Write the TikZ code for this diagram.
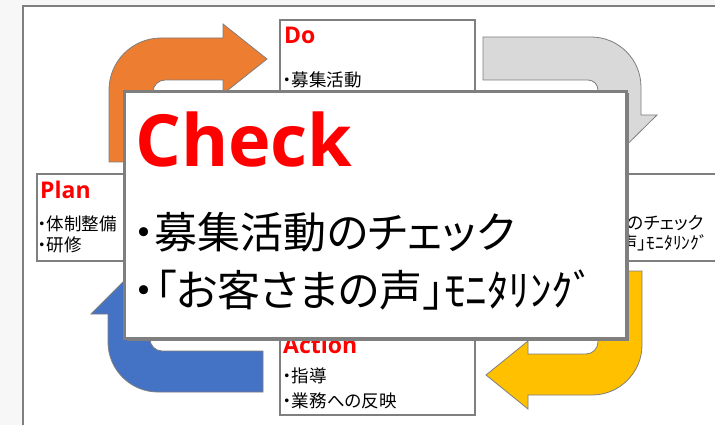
\documentclass[tikz,border=0pt]{standalone}
\usepackage{fontspec}
\usepackage{tikz}
\usetikzlibrary{shadows}
\newfontfamily\jpfont[RawFeature=+palt]{Noto Sans CJK JP}
\newfontfamily\headfont{Open Sans}
\definecolor{frameGray}{HTML}{7F7F7F}
\definecolor{pdOrange}{HTML}{ED7D31}
\definecolor{dcGray}{HTML}{D9D9D9}
\definecolor{caYellow}{HTML}{FFC000}
\definecolor{apBlue}{HTML}{4472C4}
\tikzset{
BOX/.style ={draw=frameGray,line width=1.6pt,fill=white,inner sep=0,anchor=north west},
BIGBOX/.style ={draw=frameGray,line width=3pt,fill=white,inner sep=0,anchor=north west,
	drop shadow={shadow xshift=2.5pt,shadow yshift=-2pt,fill=frameGray,opacity=1}},
TURN/.style ={draw=frameGray,line width=0.8pt,line join=miter,fill=#1},
TURN/.default = dcGray,
HEAD/.style ={text=red,font=\headfont\bfseries\fontsize{23}{23}\selectfont,anchor=base west,inner sep=0},
ITEM/.style ={font=\jpfont\fontsize{17.5}{21}\selectfont,anchor=west,inner sep=0},
BIGITEM/.style ={font=\jpfont\fontsize{43}{50}\selectfont,anchor=west,inner sep=0},
}
\begin{document}
\begin{tikzpicture}
[x=1pt,y=-1pt]
	\useasboundingbox (0,0) rectangle (715,425);
	\fill[black!3] (0,0) rectangle (715,425);
	\path[draw=frameGray,line width=2pt,fill=white] (23,6) rectangle (730,440); %Frame
	%Cycle arrows
	\path[TURN=pdOrange] (109,162) -- (109,90) .. controls (109,61.3) and (132.3,38) .. (161,38)
		-- (223,38) -- (223,24) -- (267,59) -- (223,94) -- (223,80) -- (165,80)
		.. controls (158.4,80) and (153,85.4) .. (153,92) -- (153,162) -- cycle;
	\path[TURN] (483,37) -- (591,37) .. controls (618.6,37) and (641,59.4) .. (641,87)
		-- (641,115) -- (657,115) -- (619.5,152) -- (582,115) -- (598,115) -- (598,90)
		.. controls (598,84.5) and (593.5,80) .. (588,80) -- (483,80) -- cycle;
	\path[TURN=caYellow] (598,271) -- (642,271) -- (642,345) .. controls (642,372.6) and (619.6,395) .. (592,395)
		-- (528,395) -- (528,409) -- (486,375) -- (528,341) -- (528,354) -- (586,354)
		.. controls (592.6,354) and (598,348.6) .. (598,342) -- cycle;
	\path[TURN=apBlue] (263,392) -- (158,392) .. controls (130.4,392) and (108,369.6) .. (108,342)
		-- (108,314) -- (91,314) -- (129,276) -- (167,314) -- (150,314) -- (150,339)
		.. controls (150,345.6) and (155.4,351) .. (162,351) -- (263,351) -- cycle;
	%PDCA boxes
	\node[BOX,minimum width=195,minimum height=87] (doBox) at (279,19) {};
	\node[HEAD] (doHead) at (284,44) {Do};
	\node[ITEM] (doItem) at (283,80) {・募集活動};
	\node[BOX,minimum width=195,minimum height=87] (planBox) at (36,173) {};
	\node[HEAD] (planHead) at (40,198) {Plan};
	\node[ITEM] (planItemA) at (38,224) {・体制整備};
	\node[ITEM] (planItemB) at (38,245) {・研修};
	\node[BOX,minimum width=195,minimum height=87] (checkBox) at (543,173) {};
	\node[ITEM] (checkItemA) at (548,223) {・募集活動のチェック};
	\node[ITEM] (checkItemB) at (520,243) {・「お客さまの声」ﾓﾆﾀﾘﾝｸﾞ};
	\node[BOX,minimum width=195,minimum height=87] (actBox) at (279,327) {};
	\node[HEAD] (actHead) at (283,353) {Action};
	\node[ITEM] (actItemA) at (283,376) {・指導};
	\node[ITEM] (actItemB) at (283,401) {・業務への反映};
	%Check close-up
	\node[BIGBOX,minimum width=502,minimum height=247] (bigBox) at (123,90) {};
	\node[HEAD,font=\headfont\bfseries\fontsize{72}{72}\selectfont] (bigHead) at (135,167) {Check};
	\node[BIGITEM] (bigItemA) at (133,232) {・募集活動のチェック};
	\node[BIGITEM] (bigItemB) at (133,290) {・「お客さまの声」ﾓﾆﾀﾘﾝｸﾞ};
\end{tikzpicture}
\end{document}
